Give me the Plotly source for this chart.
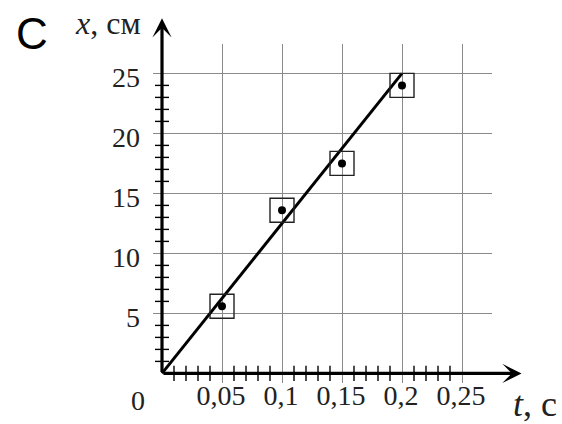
import numpy as np
import plotly.graph_objects as go

# ---- data ----
t_points = [0.05, 0.10, 0.15, 0.20]          # t, s
x_points = [5.6, 13.6, 17.5, 24.0]           # x, cm
fit_t = [0.0, 0.20]
fit_x = [0.0, 25.0]
x_tickvals = [0.05, 0.10, 0.15, 0.20, 0.25]
x_ticktext = ["0,05", "0,1", "0,15", "0,2", "0,25"]
y_tickvals = [5, 10, 15, 20, 25]
y_ticktext = ["5", "10", "15", "20", "25"]

SERIF = "Liberation Serif, Times New Roman, serif"
GRID = "#8a8a8a"
TXT = "#222"

fig = go.Figure()

# minor ticks on axes
xminor = [v for v in np.round(np.arange(0.01, 0.25, 0.01), 2) if round(v * 100) % 5 != 0]
yminor = [v for v in range(1, 25) if v % 5 != 0]
fig.add_trace(go.Scatter(x=xminor, y=[0] * len(xminor), mode="markers",
                         marker=dict(symbol="line-ns", size=11, color="black",
                                     line=dict(width=1.4, color="black")),
                         cliponaxis=False, hoverinfo="skip", showlegend=False))
fig.add_trace(go.Scatter(x=[0] * len(yminor), y=yminor, mode="markers",
                         marker=dict(symbol="line-ew", size=10, color="black",
                                     line=dict(width=1.4, color="black")),
                         cliponaxis=False, hoverinfo="skip", showlegend=False))

# fitted line
fig.add_trace(go.Scatter(x=fit_t, y=fit_x, mode="lines",
                         line=dict(color="black", width=3),
                         cliponaxis=False, hoverinfo="skip", showlegend=False))
# error squares
fig.add_trace(go.Scatter(x=t_points, y=x_points, mode="markers",
                         marker=dict(symbol="square-open", size=24, color="#222",
                                     line=dict(width=1.4, color="#222")),
                         cliponaxis=False, showlegend=False))
# points
fig.add_trace(go.Scatter(x=t_points, y=x_points, mode="markers",
                         marker=dict(symbol="circle", size=8, color="black"),
                         cliponaxis=False, showlegend=False))

# axis arrows
fig.add_annotation(x=0.2996, y=0, ax=0, ay=0, xref="x", yref="y", axref="x", ayref="y",
                   showarrow=True, arrowhead=3, arrowsize=1, arrowwidth=3.2,
                   arrowcolor="black", text="")
fig.add_annotation(x=0, y=29.6, ax=0, ay=0, xref="x", yref="y", axref="x", ayref="y",
                   showarrow=True, arrowhead=3, arrowsize=1, arrowwidth=3.2,
                   arrowcolor="black", text="")

# labels (positioned relative to the origin)
fig.add_annotation(x=0, y=0, xref="x", yref="y", text="C", showarrow=False,
                   font=dict(family="Liberation Sans, Arial, sans-serif", size=44, color="black"),
                   xshift=-130, yshift=340, xanchor="center", yanchor="middle")
fig.add_annotation(x=0, y=0, xref="x", yref="y", text="0", showarrow=False,
                   font=dict(family=SERIF, size=28, color=TXT),
                   xshift=-24, yshift=-27, xanchor="center", yanchor="middle")
fig.add_annotation(x=0, y=0, xref="x", yref="y", text="<i>t</i>, с", showarrow=False,
                   font=dict(family=SERIF, size=36, color=TXT),
                   xshift=373, yshift=-31, xanchor="center", yanchor="middle")
fig.add_annotation(x=0, y=0, xref="x", yref="y", text="<i>x</i>, см", showarrow=False,
                   font=dict(family=SERIF, size=32, color=TXT),
                   xshift=-54, yshift=350, xanchor="center", yanchor="middle")

fig.update_layout(
    width=562, height=424,
    margin=dict(l=153, r=70, t=44, b=41, autoexpand=False),
    paper_bgcolor="white", plot_bgcolor="white",
    showlegend=False,
    xaxis=dict(range=[-0.0075, 0.275], tickvals=x_tickvals, ticktext=x_ticktext,
               showgrid=True, gridcolor=GRID, gridwidth=1.3, zeroline=False,
               showline=False, ticks="", tickfont=dict(family=SERIF, size=28, color=TXT),
               ticklabelstandoff=-7, ticklabelshift=-1, automargin=False, fixedrange=True),
    yaxis=dict(range=[-0.8, 27.45], tickvals=y_tickvals, ticktext=y_ticktext,
               showgrid=True, gridcolor=GRID, gridwidth=1.3, zeroline=False,
               showline=False, ticks="", tickfont=dict(family=SERIF, size=28, color=TXT),
               ticklabelstandoff=12, ticklabelshift=4, automargin=False, fixedrange=True),
)

# remove the default 8px page margin so the figure fills the window exactly
fig.write_html("out.html", config={"displayModeBar": False},
               post_script="document.body.style.margin='0';")
